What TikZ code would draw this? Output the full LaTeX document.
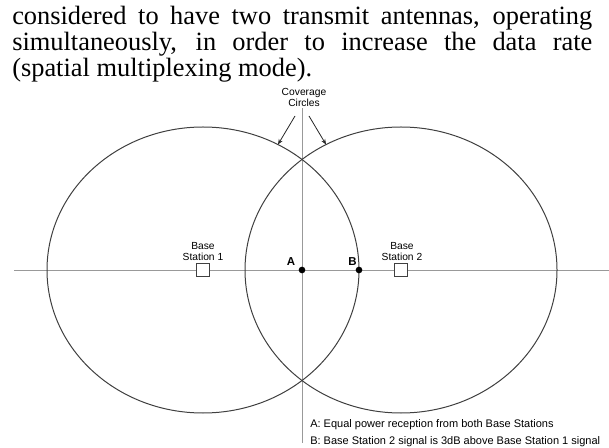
\documentclass[tikz,border=0pt]{standalone}
\usepackage{fontspec}
\setmainfont{Liberation Serif}
\newfontfamily\lsans{Liberation Sans}
\usetikzlibrary{arrows.meta}
\begin{document}
\begin{tikzpicture}[x=0.75pt,y=-0.75pt,
  body/.style={anchor=base west,inner sep=0pt,font=\fontsize{19.8}{21}\selectfont},
  lbl/.style={inner sep=0pt,align=center,font=\lsans\fontsize{7.7}{9}\selectfont},
  note/.style={anchor=base west,inner sep=0pt,font=\lsans\fontsize{8.25}{9}\selectfont},
  ptlbl/.style={inner sep=0pt,font=\lsans\bfseries\fontsize{8.6}{9}\selectfont},
  axis/.style={draw=black!40,line width=0.7pt},
  cov/.style={draw=black!75,line width=0.75pt},
  bsbox/.style={draw=black!75,fill=white,line width=0.75pt,minimum size=9.5pt,inner sep=0pt},
  pt/.style={circle,fill=black,inner sep=0pt,minimum size=5pt},
  arr/.style={draw=black!85,line width=0.6pt,-{Stealth[length=4pt,width=3.2pt]}}]
\useasboundingbox (0,0) rectangle (609,448);
% body text
\node[body] (l1) at (12,25) {\makebox[435pt][s]{considered to have two transmit antennas, operating}};
\node[body] (l2) at (12,51) {\makebox[435pt][s]{simultaneously, in order to increase the data rate}};
\node[body] (l3) at (12,76.5) {(spatial multiplexing mode).};
% axes
\coordinate (hl) at (14,270);
\coordinate (hr) at (609,270);
\coordinate (vt) at (302,108);
\coordinate (vb) at (302,443);
\draw[axis] (hl) -- (hr);
\draw[axis] (vt) -- (vb);
% coverage circles
\draw[cov] (203,270) ellipse [x radius=117pt, y radius=107.25pt];
\draw[cov] (401,270) ellipse [x radius=117pt, y radius=107.25pt];
% labels of coverage circles
\node[lbl] (cov) at (304,97.5) {Coverage\\[-1.2pt]Circles};
\coordinate (t1) at (295,116);
\coordinate (h1) at (278,144.5);
\coordinate (t2) at (309,116);
\coordinate (h2) at (326,144.5);
\draw[arr] (t1) -- (h1);
\draw[arr] (t2) -- (h2);
% base stations
\node[bsbox] (bs1) at (203,270) {};
\node[bsbox] (bs2) at (401,270) {};
\node[lbl,anchor=south] (bs1l) at (203,261) {Base\\[-0.5pt]Station 1};
\node[lbl,anchor=south] (bs2l) at (402,261) {Base\\[-0.5pt]Station 2};
% points
\node[pt] (A) at (302,270) {};
\node[pt] (B) at (359,270) {};
\node[ptlbl] (Al) at (291,262) {A};
\node[ptlbl] (Bl) at (352.5,262) {B};
% notes
\node[note] (n1) at (310,427) {A: Equal power reception from both Base Stations};
\node[note] (n2) at (310,444) {B: Base Station 2 signal is 3dB above Base Station 1 signal};
\end{tikzpicture}
\end{document}
